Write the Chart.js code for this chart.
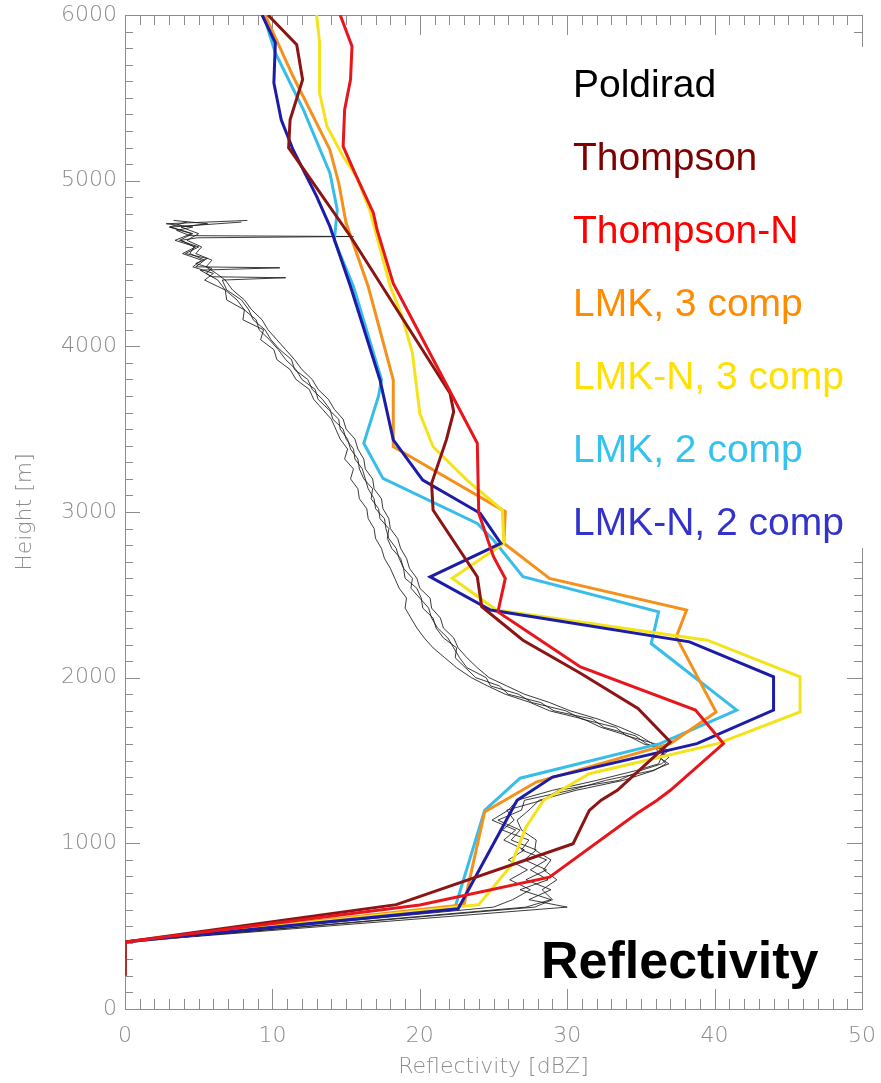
<!DOCTYPE html>
<html>
<head>
<meta charset="utf-8">
<title>Reflectivity</title>
<script src="https://cdn.jsdelivr.net/npm/chart.js@4.4.1/dist/chart.umd.min.js"></script>
<style>
  html, body { margin: 0; padding: 0; background: #fff; }
  #wrap { width: 881px; height: 1083px; }
</style>
</head>
<body>
<div id="wrap"><canvas id="reflChart" width="881" height="1083"></canvas></div>
<script>
// profiles as [reflectivity dBZ, height m], from the ground up
var thompson = [[0,202],[0,404],[18.4,630],[30.4,998],[31.5,1199],[32.3,1261],[33.4,1320],[37.0,1612],[34.8,1814],[30.9,2027],[27.0,2226],[24.2,2428],[23.9,2609],[20.9,3012],[20.8,3173],[21.8,3435],[22.3,3606],[22.05,3717],[15.3,4663],[11.1,5199],[11.2,5368],[12.05,5610],[11.65,5821],[9.7,6000]];
var thompsonN = [[0,202],[0,404],[20.0,628],[28.8,796],[34.7,1179],[36.1,1260],[37.0,1320],[40.6,1602],[38.7,1804],[30.9,2065],[27.5,2267],[25.3,2397],[25.8,2599],[25.0,2730],[24.0,2992],[23.9,3415],[18.2,4380],[17.1,4704],[16.85,4805],[15.6,5046],[14.8,5207],[14.9,5428],[15.3,5610],[15.4,5811],[14.6,6000]];
var lmk3 = [[0,202],[0,404],[23.0,630],[24.4,1190],[27.9,1370],[37.0,1602],[40.1,1793],[37.4,2246],[38.1,2408],[28.8,2599],[25.7,2811],[25.8,3002],[18.2,3394],[18.2,3797],[16.5,4361],[15.0,4744],[14.5,4986],[13.9,5187],[11.4,5630],[9.5,6000]];
var lmkN3 = [[0,202],[0,404],[24.0,630],[26.2,867],[27.2,1098],[28.4,1260],[31.5,1420],[40.2,1602],[45.8,1793],[45.8,2005],[39.5,2226],[25.2,2408],[22.2,2600],[25.7,2811],[25.6,3012],[23.2,3193],[20.9,3394],[20.0,3596],[19.5,3960],[18.8,4180],[18.0,4361],[16.6,4824],[15.7,5026],[14.8,5146],[13.7,5328],[13.2,5530],[13.2,5832],[13.0,6000]];
var lmk2 = [[0,202],[0,404],[22.4,615],[24.4,1199],[26.8,1393],[36.3,1602],[41.5,1804],[35.7,2206],[36.2,2397],[27.0,2609],[25.0,2831],[23.9,2931],[17.5,3203],[16.2,3415],[17.2,3700],[17.4,3800],[15.5,4361],[14.2,4640],[14.4,4824],[13.9,5046],[12.1,5429],[10.2,5771],[9.4,6000]];
var lmkN2 = [[0,202],[0,404],[22.6,605],[26.6,1260],[29.0,1400],[38.8,1602],[44.0,1804],[44.0,2005],[38.3,2216],[24.8,2408],[20.7,2609],[25.5,2811],[24.1,2992],[20.2,3193],[18.2,3435],[17.3,3797],[15.3,4361],[13.9,4724],[13.0,4905],[11.4,5187],[10.6,5368],[10.1,5590],[10.2,5832],[9.3,6000]];

// Poldirad radar profiles (several scans)
var poldiradA = [[0,404],[30.0,615],[27.4,660],[28.9,720],[27.2,780],[28.6,840],[27.1,900],[27.9,960],[26.2,1020],[26.8,1080],[25.3,1140],[26.9,1200],[27.1,1260],[30.2,1320],[32.6,1380],[35.8,1440],[36.9,1480],[36.2,1520],[36.7,1560],[35.4,1600],[34.6,1650],[32.5,1700],[31.7,1750],[29.1,1800],[28.2,1850],[26.0,1900],[25.4,1950],[23.8,2000],[23.1,2060],[22.4,2120],[22.5,2180],[21.6,2240],[21.1,2300],[20.9,2360],[20.2,2420],[20.1,2480],[19.8,2540],[19.0,2600],[18.9,2660],[18.7,2720],[18.1,2780],[17.8,2840],[17.9,2900],[17.3,2960],[17.2,3020],[16.7,3080],[16.8,3140],[16.2,3200],[15.9,3260],[15.8,3320],[15.3,3380],[15.1,3440],[14.6,3500],[14.5,3560],[13.8,3620],[13.1,3680],[12.9,3740],[12.0,3800],[11.6,3860],[10.9,3920],[10.4,3980],[9.8,4040],[9.1,4100],[8.9,4160],[8.1,4220],[7.6,4280],[6.8,4340],[6.3,4400],[5.5,4440],[5.9,4470],[4.8,4500],[5.6,4530],[4.1,4560],[5.0,4600],[3.7,4640],[4.6,4680],[3.1,4720],[7.9,4750]];
var poldiradB = [[0,404],[27.2,615],[28.9,660],[26.8,720],[28.7,780],[27.5,840],[28.6,900],[26.9,960],[27.4,1020],[25.6,1080],[26.4,1140],[25.9,1200],[28.3,1260],[29.4,1320],[33.5,1380],[35.0,1440],[36.4,1480],[36.9,1520],[36.1,1560],[36.0,1600],[34.0,1650],[33.3,1700],[31.0,1750],[29.9,1800],[27.6,1850],[26.7,1900],[24.8,1950],[24.5,2000],[23.2,2060],[22.7,2120],[22.3,2180],[21.9,2240],[21.2,2300],[20.8,2360],[20.6,2420],[20.0,2480],[19.4,2540],[19.5,2600],[18.9,2660],[18.6,2720],[18.4,2780],[17.9,2840],[17.7,2900],[17.6,2960],[17.0,3020],[16.9,3080],[16.5,3140],[16.3,3200],[16.1,3260],[15.6,3320],[15.5,3380],[15.0,3440],[14.8,3500],[14.1,3560],[13.9,3620],[13.4,3680],[12.7,3740],[12.4,3800],[11.5,3860],[11.3,3920],[10.5,3980],[9.9,4040],[9.5,4100],[8.7,4160],[8.4,4220],[7.9,4280],[6.9,4340],[6.6,4400],[10.9,4414],[5.9,4420],[5.1,4460],[10.5,4474],[4.8,4480],[5.4,4520],[4.4,4560],[4.7,4600],[3.8,4640],[4.9,4655],[15.5,4663],[4.4,4668],[3.5,4700],[4.6,4720],[2.8,4740],[8.3,4760]];
var poldiradC = [[0,404],[25.0,615],[26.3,660],[27.5,720],[26.1,780],[27.3,840],[26.0,900],[27.1,960],[25.7,1020],[26.5,1080],[24.9,1140],[26.0,1200],[26.6,1260],[29.0,1320],[32.0,1380],[34.7,1440],[36.2,1480],[36.4,1520],[36.6,1560],[35.2,1600],[34.1,1650],[32.3,1700],[31.1,1750],[28.8,1800],[27.5,1850],[25.8,1900],[24.6,1950],[23.5,2000],[22.5,2060],[21.7,2120],[20.9,2180],[20.3,2240],[19.8,2300],[19.4,2360],[19.0,2420],[19.1,2480],[18.6,2540],[18.3,2600],[18.0,2660],[17.6,2720],[17.4,2780],[17.0,2840],[16.9,2900],[16.5,2960],[16.4,3020],[15.9,3080],[15.8,3140],[15.3,3200],[15.5,3260],[14.9,3320],[15.1,3380],[14.6,3440],[14.3,3500],[14.0,3560],[13.4,3620],[12.8,3680],[12.5,3740],[11.6,3800],[11.2,3860],[10.3,3920],[10.1,3980],[9.2,4040],[9.4,4100],[8.0,4160],[8.1,4220],[6.9,4280],[6.8,4340],[5.4,4400],[6.0,4440],[4.6,4480],[5.2,4520],[3.9,4560],[4.8,4600],[3.4,4640],[4.5,4680],[3.0,4720],[4.2,4750]];
var poldiradD = [[0,404],[27.8,615],[29.0,660],[28.3,720],[29.3,780],[28.4,840],[28.9,900],[27.8,960],[27.9,1020],[26.9,1080],[26.6,1140],[27.4,1200],[28.1,1260],[30.6,1320],[33.8,1380],[35.9,1440],[36.7,1480],[36.3,1520],[36.9,1560],[35.8,1600],[34.9,1650],[33.6,1700],[32.1,1750],[30.2,1800],[28.8,1850],[27.1,1900],[25.9,1950],[24.7,2000],[23.9,2060],[23.2,2120],[22.6,2180],[22.3,2240],[21.6,2300],[21.4,2360],[20.8,2420],[20.7,2480],[20.0,2540],[19.8,2600],[19.3,2660],[19.1,2720],[18.7,2780],[18.5,2840],[18.0,2900],[17.9,2960],[17.5,3020],[17.4,3080],[16.9,3140],[16.8,3200],[16.3,3260],[16.2,3320],[15.8,3380],[15.6,3440],[15.0,3500],[14.8,3560],[14.2,3620],[13.8,3680],[13.1,3740],[12.7,3800],[12.0,3860],[11.5,3920],[10.9,3980],[10.3,4040],[9.7,4100],[9.3,4160],[8.6,4220],[8.1,4280],[7.3,4340],[6.8,4400],[6.2,4440],[5.5,4480],[5.9,4520],[4.8,4560],[5.2,4600],[4.2,4640],[5.0,4680],[3.8,4720],[5.6,4740],[3.3,4760]];

var xTicks = [0, 10, 20, 30, 40, 50];
var yTicks = [0, 1000, 2000, 3000, 4000, 5000, 6000];

var legendLabels = ['Poldirad', 'Thompson', 'Thompson-N', 'LMK, 3 comp', 'LMK-N, 3 comp', 'LMK, 2 comp', 'LMK-N, 2 comp'];
var legendColors = ['#000000', '#7f0000', '#ff0000', '#ff8c00', '#ffe000', '#33c3f0', '#3333cc'];

function pts(arr) {
  return arr.map(function (p) { return { x: p[0], y: p[1] }; });
}

function modelLine(label, arr, color) {
  return { label: label, data: pts(arr), borderColor: color, borderWidth: 3, showLine: true, pointRadius: 0, tension: 0, fill: false };
}

function radarLine(arr) {
  return { label: 'Poldirad', data: pts(arr), borderColor: 'rgba(25,25,25,0.85)', borderWidth: 1, showLine: true, pointRadius: 0, tension: 0, fill: false };
}

var axisGray = '#8c8c8c';
var tickFont = { family: 'DejaVu Sans', size: 22, weight: '200' };

// IDL-style box with inward ticks, legend text and panel title
var decorations = {
  id: 'decorations',
  beforeDatasetsDraw: function (chart) {
    var ctx = chart.ctx, a = chart.chartArea, xs = chart.scales.x, ys = chart.scales.y;
    ctx.save();
    ctx.strokeStyle = axisGray;
    ctx.lineWidth = 1;
    ctx.strokeRect(a.left + 0.5, a.top + 0.5, a.right - a.left, a.bottom - a.top);
    ctx.beginPath();
    for (var v = 0; v <= 50; v++) {
      var px = Math.round(xs.getPixelForValue(v)) + 0.5;
      var len = v % 10 === 0 ? 20 : 10;
      ctx.moveTo(px, a.bottom); ctx.lineTo(px, a.bottom - len);
      ctx.moveTo(px, a.top); ctx.lineTo(px, a.top + len);
    }
    for (var h = 0; h <= 6000; h += 100) {
      var py = Math.round(ys.getPixelForValue(h)) + 0.5;
      var len2 = h % 1000 === 0 ? 15 : 8;
      ctx.moveTo(a.left, py); ctx.lineTo(a.left + len2, py);
      ctx.moveTo(a.right, py); ctx.lineTo(a.right - len2, py);
    }
    ctx.stroke();
    ctx.restore();
  },
  afterDraw: function (chart) {
    var ctx = chart.ctx;
    ctx.save();
    ctx.fillStyle = '#ffffff';
    ctx.fillRect(566, 47, 315, 501);
    ctx.font = '39px "Liberation Sans", Arial, sans-serif';
    ctx.textBaseline = 'alphabetic';
    ctx.textAlign = 'left';
    for (var i = 0; i < legendLabels.length; i++) {
      ctx.fillStyle = legendColors[i];
      ctx.fillText(legendLabels[i], 573, 97 + i * 73);
    }
    ctx.font = 'bold 52px "Liberation Sans", Arial, sans-serif';
    ctx.fillStyle = '#000000';
    ctx.fillText('Reflectivity', 541, 978);
    ctx.restore();
  }
};

var ctx = document.getElementById('reflChart').getContext('2d');
var reflChart = new Chart(ctx, {
  type: 'scatter',
  data: {
    datasets: [
      modelLine('Thompson-N', thompsonN, '#e8161c'),
      modelLine('Thompson', thompson, '#8b1414'),
      modelLine('LMK-N, 2 comp', lmkN2, '#1c1ca6'),
      modelLine('LMK-N, 3 comp', lmkN3, '#f4e31a'),
      modelLine('LMK, 3 comp', lmk3, '#f3911c'),
      modelLine('LMK, 2 comp', lmk2, '#38bde9'),
      radarLine(poldiradA),
      radarLine(poldiradB),
      radarLine(poldiradC),
      radarLine(poldiradD)
    ]
  },
  options: {
    responsive: false,
    animation: false,
    events: [],
    layout: { padding: { top: 15, right: 19, left: 0, bottom: 0 } },
    plugins: { legend: { display: false }, tooltip: { enabled: false } },
    scales: {
      x: {
        type: 'linear', min: 0, max: 50,
        afterBuildTicks: function (s) { s.ticks = xTicks.map(function (v) { return { value: v }; }); },
        afterFit: function (s) { s.height = 74; s.paddingLeft = 0; s.paddingRight = 0; },
        grid: { display: false, drawTicks: false },
        border: { display: false },
        ticks: { color: axisGray, font: tickFont, padding: 14, maxRotation: 0, callback: function (v) { return String(v); } },
        title: { display: true, text: 'Reflectivity [dBZ]', color: axisGray, font: tickFont, padding: { top: 0, bottom: 3 } }
      },
      y: {
        type: 'linear', min: 0, max: 6000,
        afterBuildTicks: function (s) { s.ticks = yTicks.map(function (v) { return { value: v }; }); },
        afterFit: function (s) { s.width = 125; s.paddingTop = 0; s.paddingBottom = 0; },
        grid: { display: false, drawTicks: false },
        border: { display: false },
        ticks: { color: axisGray, font: tickFont, padding: 8, callback: function (v) { return String(v); } },
        title: { display: true, text: 'Height [m]', color: axisGray, font: tickFont, padding: { top: 12, bottom: 0 } }
      }
    }
  },
  plugins: [decorations]
});
</script>
</body>
</html>
